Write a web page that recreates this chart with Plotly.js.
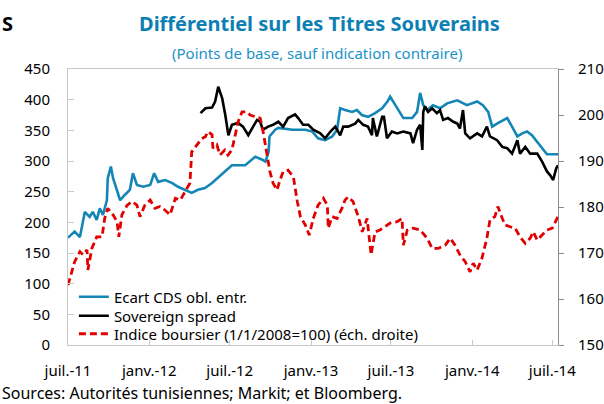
<!DOCTYPE html>
<html>
<head>
<meta charset="utf-8">
<script src="https://cdn.plot.ly/plotly-3.0.1.min.js"></script>
<style>
html,body{margin:0;padding:0;background:#fff;}
#chart{width:604px;height:404px;}
</style>
</head>
<body>
<div id="chart"></div>
<script>
// ---- Data ----
var cdsDates = ['2011-07-01','2011-07-16','2011-07-28','2011-08-08','2011-08-19','2011-08-26','2011-09-04','2011-09-11','2011-09-18','2011-09-27','2011-09-29','2011-10-06','2011-10-11','2011-10-20','2011-10-27','2011-11-07','2011-11-18','2011-11-25','2011-12-04','2011-12-18','2012-01-03','2012-01-12','2012-01-21','2012-02-06','2012-02-22','2012-03-06','2012-03-22','2012-04-06','2012-04-20','2012-05-06','2012-05-22','2012-06-04','2012-06-20','2012-07-06','2012-08-05','2012-08-28','2012-09-13','2012-09-20','2012-09-27','2012-09-29','2012-10-12','2012-10-19','2012-11-20','2012-12-19','2013-01-04','2013-01-17','2013-02-02','2013-02-18','2013-03-01','2013-03-08','2013-03-19','2013-04-04','2013-04-15','2013-04-26','2013-05-10','2013-05-26','2013-06-11','2013-06-23','2013-06-29','2013-07-06','2013-07-15','2013-07-29','2013-08-18','2013-08-29','2013-09-05','2013-09-12','2013-09-21','2013-10-04','2013-10-20','2013-11-05','2013-11-28','2013-12-20','2014-01-12','2014-01-25','2014-02-06','2014-02-15','2014-02-26','2014-03-12','2014-03-21','2014-04-01','2014-04-13','2014-04-24','2014-05-05','2014-05-16','2014-05-28','2014-06-08','2014-06-19','2014-07-03','2014-07-14'];
var cdsValues = [175,185,176,217,209,217,204,223,212,236,272,291,272,250,236,245,253,280,261,258,261,280,266,269,264,258,253,248,253,256,264,272,283,293,293,307,302,299,315,340,351,354,351,351,348,337,334,340,351,386,383,380,383,375,372,378,386,397,405,397,386,370,370,380,411,391,383,391,386,394,399,391,397,391,380,356,361,367,370,356,340,345,348,342,331,321,311,311,311];

var spreadDates = ['2012-04-26','2012-05-07','2012-05-22','2012-05-29','2012-06-05','2012-06-14','2012-06-21','2012-06-28','2012-07-06','2012-07-20','2012-07-31','2012-08-12','2012-08-23','2012-09-01','2012-09-08','2012-09-14','2012-09-26','2012-10-07','2012-10-19','2012-10-30','2012-11-10','2012-11-26','2012-12-03','2012-12-14','2012-12-26','2013-01-06','2013-01-22','2013-02-02','2013-02-14','2013-02-25','2013-03-08','2013-03-15','2013-03-26','2013-04-11','2013-04-18','2013-04-29','2013-05-10','2013-05-19','2013-05-21','2013-05-30','2013-06-11','2013-06-15','2013-06-22','2013-07-03','2013-07-15','2013-07-29','2013-08-14','2013-08-20','2013-08-29','2013-09-05','2013-09-10','2013-09-12','2013-09-16','2013-09-23','2013-10-02','2013-10-13','2013-10-20','2013-10-27','2013-11-07','2013-11-19','2013-11-28','2013-12-04','2013-12-11','2013-12-16','2013-12-27','2014-01-12','2014-01-23','2014-02-03','2014-02-10','2014-02-26','2014-03-10','2014-03-21','2014-04-01','2014-04-13','2014-04-19','2014-05-01','2014-05-12','2014-05-28','2014-06-08','2014-06-19','2014-06-26','2014-07-03','2014-07-10','2014-07-14'];
var spreadValues = [378,386,387,397,421,402,375,342,359,362,356,342,356,367,364,351,356,359,364,356,370,376,370,359,359,351,345,337,348,356,342,356,356,361,367,359,356,342,370,340,372,372,337,348,345,348,345,329,351,359,318,380,389,380,386,378,383,367,370,364,361,353,383,345,337,345,340,356,340,334,323,321,312,334,312,323,312,312,299,283,277,269,288,293];

var indexDates = ['2011-07-01','2011-07-10','2011-07-16','2011-07-28','2011-08-04','2011-08-13','2011-08-15','2011-08-24','2011-09-04','2011-09-16','2011-09-22','2011-09-29','2011-10-11','2011-10-20','2011-10-24','2011-10-31','2011-11-12','2011-11-23','2011-12-04','2011-12-11','2011-12-22','2012-01-03','2012-01-14','2012-01-25','2012-02-06','2012-02-17','2012-02-29','2012-03-11','2012-03-22','2012-04-02','2012-04-06','2012-04-18','2012-04-29','2012-05-07','2012-05-13','2012-05-22','2012-05-24','2012-06-02','2012-06-09','2012-06-20','2012-06-27','2012-07-06','2012-07-12','2012-07-20','2012-07-29','2012-08-09','2012-08-16','2012-08-28','2012-09-08','2012-09-14','2012-09-23','2012-09-30','2012-10-07','2012-10-16','2012-10-23','2012-10-30','2012-11-10','2012-11-22','2012-12-01','2012-12-08','2012-12-19','2012-12-28','2013-01-06','2013-01-17','2013-01-29','2013-02-07','2013-02-09','2013-02-18','2013-03-01','2013-03-12','2013-03-19','2013-03-26','2013-04-06','2013-04-18','2013-04-27','2013-05-08','2013-05-17','2013-05-26','2013-06-06','2013-06-18','2013-06-29','2013-07-15','2013-07-26','2013-07-29','2013-08-07','2013-08-20','2013-09-05','2013-09-21','2013-10-02','2013-10-16','2013-11-01','2013-11-12','2013-11-23','2013-12-04','2013-12-16','2013-12-27','2014-01-03','2014-01-12','2014-01-23','2014-02-03','2014-02-10','2014-02-21','2014-02-28','2014-03-10','2014-03-16','2014-03-28','2014-04-08','2014-04-19','2014-05-01','2014-05-12','2014-05-19','2014-05-28','2014-06-08','2014-06-19','2014-07-01','2014-07-08','2014-07-14'];
var indexValues = [163.0,165.9,168.1,170.3,169.6,170.7,166.3,171.0,173.5,173.5,177.5,179.7,178.3,176.8,173.5,178.3,180.4,181.2,180.4,177.9,180.4,181.5,179.7,180.1,179.3,178.3,181.9,181.5,183.3,185.2,192.0,193.5,194.9,195.3,196.4,195.7,192.8,193.5,191.3,192.4,191.3,192.4,195.3,198.5,200.7,200.7,200.0,199.6,199.3,196.7,192.0,187.7,185.2,183.7,185.9,187.7,188.0,186.6,181.2,177.9,176.1,173.9,177.5,180.4,181.9,180.4,175.4,177.9,177.5,179.7,181.5,182.2,181.2,177.9,174.6,177.5,169.6,174.6,175.0,175.7,176.5,176.8,177.5,171.7,175.0,175.4,175.0,173.2,171.0,171.0,171.7,173.2,171.7,169.6,168.1,165.9,167.8,166.3,168.9,173.2,177.2,177.9,180.1,177.5,176.1,175.7,175.4,173.5,172.1,173.2,174.6,172.8,173.9,175.0,175.4,176.8,177.9];

var xTickVals = ['2011-07-01','2012-01-01','2012-07-01','2013-01-01','2013-07-01','2014-01-01','2014-07-01'];
var xTickText = ['juil.-11','janv.-12','juil.-12','janv.-13','juil.-13','janv.-14','juil.-14'];
var seriesNames = ['Ecart CDS obl. entr.','Sovereign spread','Indice boursier (1/1/2008=100) (éch. droite)'];
var titleText = 'Différentiel sur les Titres Souverains';
var subtitleText = '(Points de base, sauf indication contraire)';
var sourceText = 'Sources: Autorités tunisiennes; Markit; et Bloomberg.';

// ---- Chart ----
var FONT = 'Noto Sans, Open Sans, sans-serif';
var traces = [
  {x: cdsDates, y: cdsValues, name: seriesNames[0], type: 'scatter', mode: 'lines', legend: 'legend',
   line: {color: '#1386b6', width: 2.6}},
  {x: spreadDates, y: spreadValues, name: seriesNames[1], type: 'scatter', mode: 'lines', legend: 'legend2',
   line: {color: '#000000', width: 2.6}},
  {x: indexDates, y: indexValues, name: seriesNames[2], type: 'scatter', mode: 'lines', legend: 'legend3',
   yaxis: 'y2', line: {color: '#e00000', width: 2.8, dash: '7px,4px'}}
];

function legendAt(ypx) {
  return {x: 0.012, y: (345 - ypx) / 276, xanchor: 'left', yanchor: 'middle', bgcolor: 'rgba(0,0,0,0)',
          borderwidth: 0, font: {family: FONT, size: 15, color: '#000'}};
}

var tickFont = {family: FONT, size: 15, color: '#000'};
var layout = {
  width: 604, height: 404,
  margin: {l: 68, r: 46, t: 69, b: 59, pad: 0},
  paper_bgcolor: '#ffffff', plot_bgcolor: '#ffffff',
  font: {family: FONT, size: 15, color: '#000'},
  showlegend: true,
  legend: legendAt(297),
  legend2: legendAt(316),
  legend3: legendAt(334),
  xaxis: {type: 'date', range: ['2011-07-01', '2014-07-14'], showgrid: false, zeroline: false,
          showline: true, linecolor: '#c8c8c8', linewidth: 1, mirror: true,
          ticks: 'inside', ticklen: 5, tickcolor: '#c8c8c8',
          tickvals: xTickVals, ticktext: xTickText, ticklabelstandoff: 12,
          tickfont: tickFont},
  yaxis: {range: [0, 450], dtick: 50, tick0: 0, showgrid: false, zeroline: false,
          showline: true, linecolor: '#c8c8c8', linewidth: 1,
          ticks: 'inside', ticklen: 6, tickcolor: '#c8c8c8', ticklabelstandoff: 14,
          tickfont: tickFont},
  yaxis2: {range: [150, 210], dtick: 10, tick0: 150, overlaying: 'y', side: 'right',
           showgrid: false, zeroline: false, showline: true, linecolor: '#8c8c8c', linewidth: 1,
           ticks: 'outside', ticklen: 5, tickcolor: '#8c8c8c', ticklabelstandoff: 11,
           tickfont: tickFont},
  annotations: [
    {text: '<b>' + titleText + '</b>', xref: 'paper', yref: 'paper', x: 0.513, y: (345 - 24) / 276,
     xanchor: 'center', yanchor: 'middle', showarrow: false,
     font: {family: FONT, size: 20, color: '#0c7fb3'}},
    {text: subtitleText, xref: 'paper', yref: 'paper', x: 0.509, y: (345 - 53) / 276,
     xanchor: 'center', yanchor: 'middle', showarrow: false,
     font: {family: FONT, size: 15, color: '#1b92c8'}},
    {text: '<b>S</b>', xref: 'paper', yref: 'paper', x: -68 / 490, y: (345 - 24) / 276,
     xanchor: 'left', yanchor: 'middle', showarrow: false,
     font: {family: FONT, size: 20, color: '#000'}},
    {text: sourceText, xref: 'paper', yref: 'paper', x: -68 / 490, y: (345 - 392.5) / 276,
     xanchor: 'left', yanchor: 'middle', showarrow: false,
     font: {family: FONT, size: 16, color: '#000'}}
  ]
};

Plotly.newPlot('chart', traces, layout, {staticPlot: true, displayModeBar: false});
</script>
</body>
</html>
